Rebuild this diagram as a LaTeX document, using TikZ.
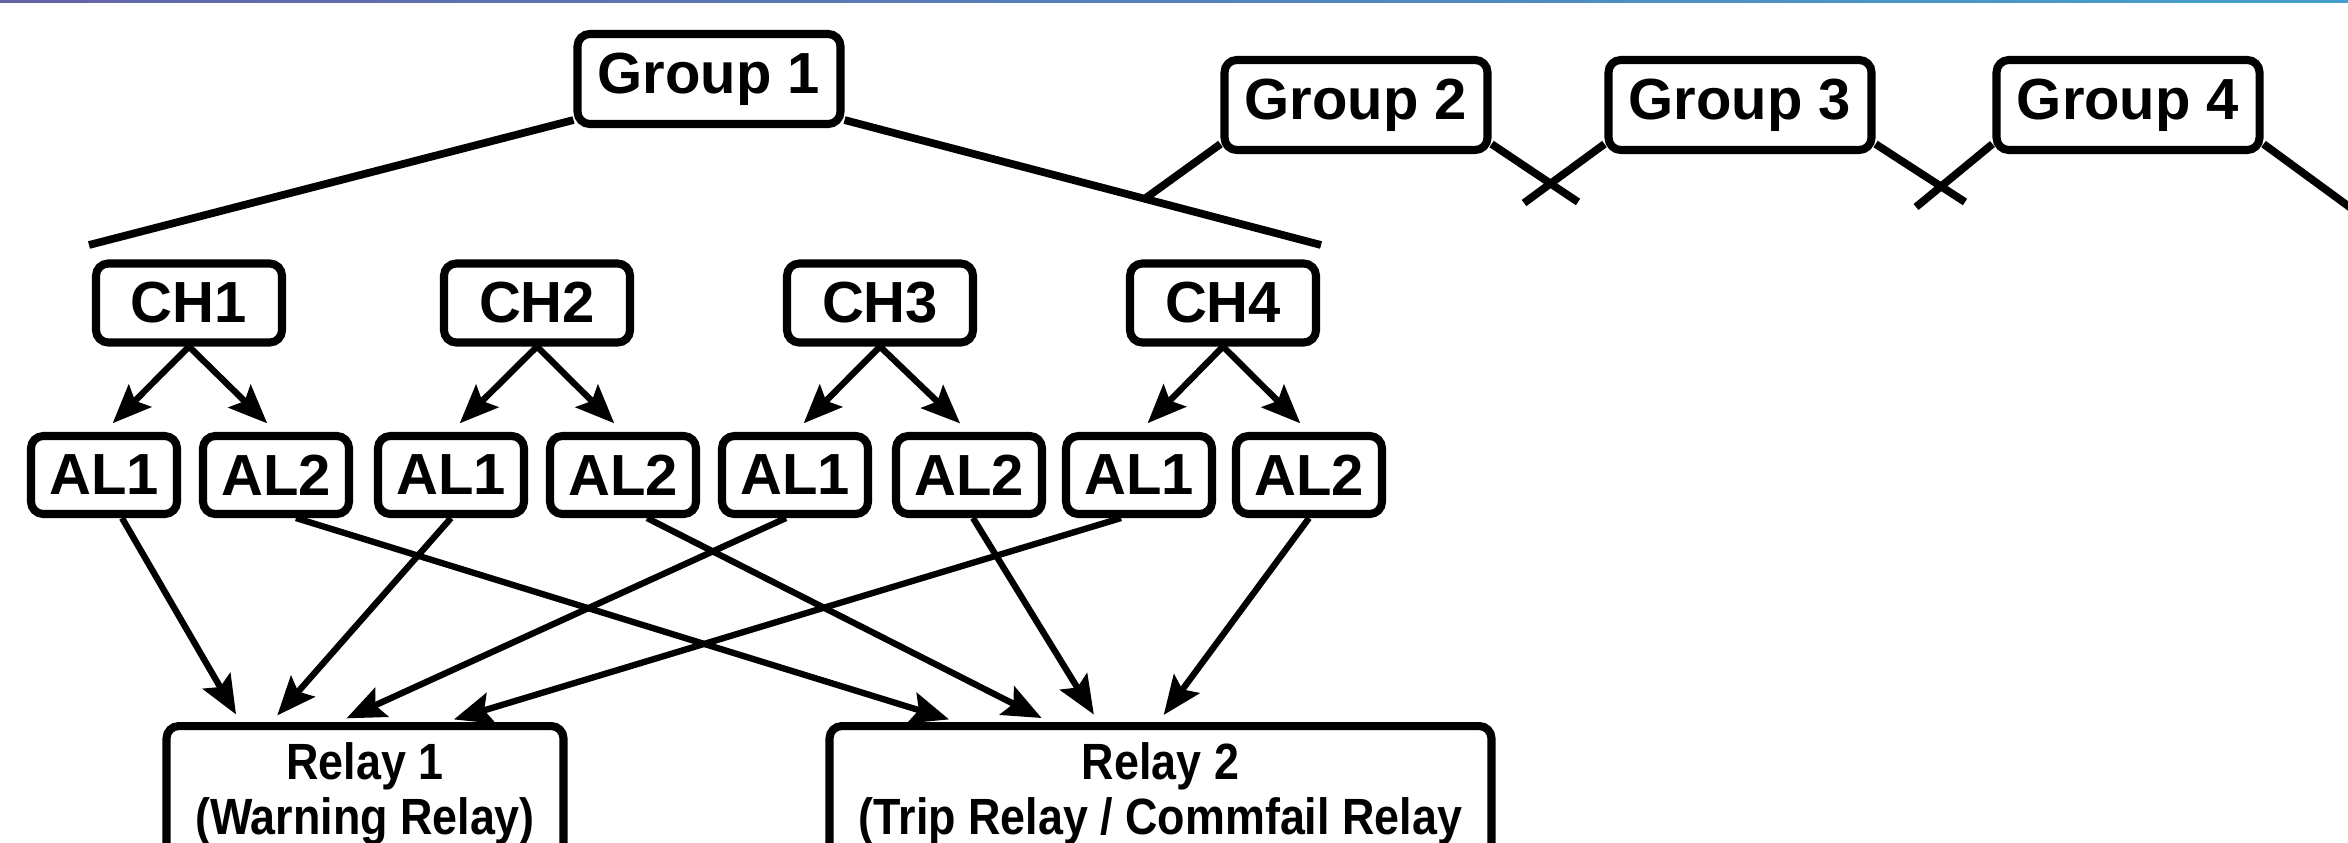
\documentclass[tikz,border=0pt]{standalone}
\usepackage{fontspec}
\setmainfont{Liberation Sans}
\newfontfamily\relfont[FakeStretch=0.88]{Liberation Sans}
\usetikzlibrary{arrows.meta}
\definecolor{barl}{RGB}{100,100,165}
\definecolor{barm}{RGB}{75,125,175}
\definecolor{barr}{RGB}{70,160,205}
\tikzset{%
    box/.style={draw, line width=2.3pt, rounded corners=3.5pt, fill=white, inner sep=0pt, font=\fontsize{16.5}{19}\selectfont\bfseries},
    grp/.style={box, minimum width=2.63cm, minimum height=0.9cm},
    cha/.style={box, minimum width=1.86cm, minimum height=0.79cm},
    alm/.style={box, minimum width=1.46cm, minimum height=0.78cm},
    rel/.style={box, anchor=north, minimum height=1.36cm, align=center, font={\relfont\bfseries\fontsize{14.5}{15.6}\selectfont}},
    pri/.style={line width=2.2pt},
    pra/.style={line width=1.8pt, -{Stealth[length=11pt,width=9pt,inset=2pt]}}
}

\begin{document}
\begin{tikzpicture}
    \useasboundingbox (0,0) rectangle (23.48,8.42);
    \clip (0,0) rectangle (23.48,8.42);
    \shade[left color=barl, middle color=barm, right color=barr] (0,8.39) rectangle (23.48,8.42);
    \node[grp] (g1) at (7.09,7.63) {Group 1};
    \node[grp] (g2) at (13.56,7.37) {Group 2};
    \node[grp] (g3) at (17.40,7.37) {Group 3};
    \node[grp] (g4) at (21.28,7.37) {Group 4};
    \node[cha] (c1) at (1.89,5.39) {CH1};
    \node[cha] (c2) at (5.37,5.39) {CH2};
    \node[cha] (c3) at (8.80,5.39) {CH3};
    \node[cha] (c4) at (12.23,5.39) {CH4};
    \node[alm] (a11) at (1.04,3.67) {AL1};
    \node[alm] (a12) at (2.76,3.67) {AL2};
    \node[alm] (a21) at (4.51,3.67) {AL1};
    \node[alm] (a22) at (6.23,3.67) {AL2};
    \node[alm] (a31) at (7.95,3.67) {AL1};
    \node[alm] (a32) at (9.69,3.67) {AL2};
    \node[alm] (a41) at (11.39,3.67) {AL1};
    \node[alm] (a42) at (13.09,3.67) {AL2};
    \node[rel, minimum width=3.97cm] (r1) at (3.65,1.20) {Relay 1\\(Warning Relay)};
    \node[rel, minimum width=6.62cm] (r2) at (11.605,1.20) {Relay 2\\(Trip Relay / Commfail Relay};
    % group links
    \coordinate (gl) at (0.89,5.97);
    \coordinate (gr) at (13.21,5.97);
    \coordinate (x2) at (15.78,6.40);
    \coordinate (y3) at (15.24,6.39);
    \coordinate (x3) at (19.65,6.40);
    \coordinate (y4) at (19.16,6.35);
    \coordinate (x4) at (24.00,5.98);
    \draw[pri] ([yshift=0.08cm]g1.south west) -- (gl);
    \draw[pri] ([yshift=0.08cm]g1.south east) -- coordinate[pos=0.63] (jn) (gr);
    \draw[pri] ([yshift=0.1cm]g2.south west) -- (jn);
    \draw[pri] ([yshift=0.1cm]g2.south east) -- (x2);
    \draw[pri] ([yshift=0.1cm]g3.south west) -- (y3);
    \draw[pri] ([yshift=0.1cm]g3.south east) -- (x3);
    \draw[pri] ([yshift=0.1cm]g4.south west) -- (y4);
    \draw[pri] ([yshift=0.1cm]g4.south east) -- (x4);
    % channels to alarms
    \draw[pra, shorten >=3.5pt] (c1.south) -- (a11.north);
    \draw[pra, shorten >=3.5pt] (c1.south) -- (a12.north);
    \draw[pra, shorten >=3.5pt] (c2.south) -- (a21.north);
    \draw[pra, shorten >=3.5pt] (c2.south) -- (a22.north);
    \draw[pra, shorten >=3.5pt] (c3.south) -- (a31.north);
    \draw[pra, shorten >=3.5pt] (c3.south) -- (a32.north);
    \draw[pra, shorten >=3.5pt] (c4.south) -- (a41.north);
    \draw[pra, shorten >=3.5pt] (c4.south) -- (a42.north);
    % alarms to relays
    \draw[pra, shorten >=2.5pt] ([xshift=0.18cm]a11.south) -- ([xshift=0.78cm]r1.north west);
    \draw[pra, shorten >=2.5pt] (a21.south) -- ([xshift=1.09cm]r1.north west);
    \draw[pra, shorten >=2.5pt] ([xshift=-0.09cm]a31.south) -- ([xshift=1.76cm]r1.north west);
    \draw[pra, shorten >=2.5pt] ([xshift=-0.18cm]a41.south) -- ([xshift=2.83cm]r1.north west);
    \draw[pra, shorten >=2.5pt] ([xshift=0.2cm]a12.south) -- ([xshift=1.32cm]r2.north west);
    \draw[pra, shorten >=2.5pt] ([xshift=0.24cm]a22.south) -- ([xshift=2.24cm]r2.north west);
    \draw[pra, shorten >=2.5pt] ([xshift=0.04cm]a32.south) -- ([xshift=2.73cm]r2.north west);
    \draw[pra, shorten >=2.5pt] (a42.south) -- ([xshift=3.33cm]r2.north west);
\end{tikzpicture}
\end{document}
